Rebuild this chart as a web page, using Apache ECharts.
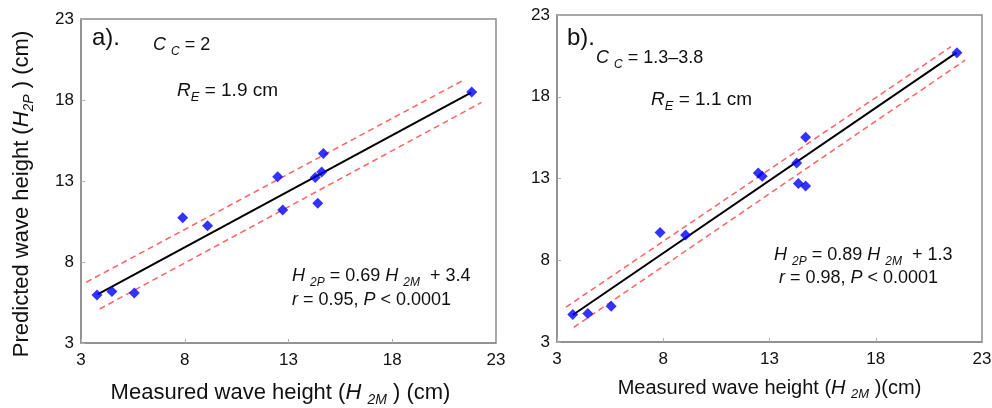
<!DOCTYPE html>
<html>
<head>
<meta charset="utf-8">
<script src="https://cdn.jsdelivr.net/npm/echarts@6/dist/echarts.min.js"></script>
<style>
  html, body { margin: 0; padding: 0; background: #fff; }
  #chart { width: 992px; height: 408px; }
</style>
</head>
<body>
<div id="chart"></div>
<script>
// panel a) Cc = 2
var measuredA = [3.77, 4.49, 5.57, 7.90, 9.10, 12.48, 12.72, 14.29, 14.60, 14.68, 14.41, 21.83];
var predictedA = [5.97, 6.18, 6.08, 10.73, 10.24, 13.26, 11.21, 13.22, 13.56, 14.69, 11.62, 18.49];
var fitA = [[3.8, 6.0], [21.8, 18.45]];
var upperA = [[3.25, 6.75], [21.4, 19.2]];
var lowerA = [[3.9, 5.1], [22.3, 17.85]];

// panel b) Cc = 1.3-3.8
var measuredB = [3.74, 4.45, 5.55, 7.85, 9.05, 12.47, 12.66, 14.28, 14.70, 14.36, 14.70, 21.82];
var predictedB = [4.68, 4.74, 5.19, 9.69, 9.55, 13.34, 13.13, 13.95, 15.53, 12.70, 12.54, 20.69];
var fitB = [[3.74, 4.65], [21.8, 20.7]];
var upperB = [[3.42, 5.13], [21.54, 21.06]];
var lowerB = [[3.79, 3.90], [22.21, 20.24]];

var FONT = '"Liberation Sans", Arial, sans-serif';
var frame = '#8c8c8c';
var ink = '#111';

function pairs(xs, ys) {
  return xs.map(function (x, i) { return [x, ys[i]]; });
}

function nameRich(size) {
  return {
    n: { fontSize: size, fontFamily: FONT, color: ink, lineHeight: size + 6 },
    i: { fontSize: size, fontFamily: FONT, color: ink, fontStyle: 'italic', lineHeight: size + 6 },
    s: { fontSize: Math.round(size * 0.65), fontFamily: FONT, color: ink, fontStyle: 'italic', verticalAlign: 'bottom', lineHeight: 12 }
  };
}

function xAxisOf(idx, name, gap, size, pad) {
  return {
    gridIndex: idx, type: 'value', min: 3, max: 23, interval: 5,
    name: name, nameLocation: 'middle', nameGap: gap,
    nameTextStyle: { rich: nameRich(size), padding: pad },
    axisLine: { show: true, lineStyle: { color: frame, width: 1.5 } },
    axisTick: { show: true, inside: true, length: 4, lineStyle: { color: '#b0b0b0' } },
    axisLabel: { fontSize: 17, fontFamily: FONT, color: ink, margin: 9 },
    splitLine: { show: false }
  };
}

function yAxisOf(idx, name) {
  return {
    gridIndex: idx, type: 'value', min: 3, max: 23, interval: 5,
    name: name, nameLocation: 'middle', nameGap: 45,
    nameTextStyle: { rich: nameRich(22), padding: [0, 26, 0, 0] },
    axisLine: { show: true, lineStyle: { color: frame, width: 1.5 } },
    axisTick: { show: true, inside: true, length: 4, lineStyle: { color: '#b0b0b0' } },
    axisLabel: { fontSize: 17, fontFamily: FONT, color: ink, margin: 7 },
    splitLine: { show: false }
  };
}

function panelSeries(idx, xs, ys, fit, up, low) {
  return [
    { type: 'line', xAxisIndex: idx, yAxisIndex: idx, data: up, symbol: 'none', silent: true,
      lineStyle: { color: '#ff6262', width: 1.5, type: [6, 4] } },
    { type: 'line', xAxisIndex: idx, yAxisIndex: idx, data: low, symbol: 'none', silent: true,
      lineStyle: { color: '#ff6262', width: 1.5, type: [6, 4] } },
    { type: 'line', xAxisIndex: idx, yAxisIndex: idx, data: fit, symbol: 'none', silent: true,
      lineStyle: { color: '#000', width: 2 } },
    { type: 'scatter', xAxisIndex: idx, yAxisIndex: idx, data: pairs(xs, ys),
      symbol: 'diamond', symbolSize: 11, itemStyle: { color: '#0000ff' }, z: 5 }
  ];
}

function richText(size) {
  return {
    n: { fontSize: size, fontFamily: FONT, fill: ink, lineHeight: size + 7 },
    i: { fontSize: size, fontFamily: FONT, fill: ink, fontStyle: 'italic', lineHeight: size + 7 },
    s: { fontSize: Math.round(size * 0.66), fontFamily: FONT, fill: ink, fontStyle: 'italic', verticalAlign: 'bottom', lineHeight: 10 }
  };
}

function label(x, y, text, size) {
  size = size || 18;
  return {
    type: 'text', x: x, y: y, z: 10,
    style: {
      text: text, rich: richText(size), fill: ink,
      fontSize: size, fontFamily: FONT, verticalAlign: 'middle'
    }
  };
}

var chart = echarts.init(document.getElementById('chart'), null, { renderer: 'canvas' });

chart.setOption({
  animation: false,
  grid: [
    { left: 81, top: 19, width: 415, height: 324, outerBoundsMode: 'none', show: true, borderColor: frame, borderWidth: 1.5, backgroundColor: '#fff' },
    { left: 557, top: 15, width: 425, height: 327, outerBoundsMode: 'none', show: true, borderColor: frame, borderWidth: 1.5, backgroundColor: '#fff' }
  ],
  xAxis: [
    xAxisOf(0, '{n|Measured wave height (}{i|H }{s|2M}{n| ) (cm)}', 36, 22, [0, 16, 0, 0]),
    xAxisOf(1, '{n|Measured wave height (}{i|H }{s|2M}{n| )(cm)}', 33, 20, 0)
  ],
  yAxis: [
    yAxisOf(0, '{n|Predicted wave height (}{i|H}{s|2P}{n| ) (cm)}'),
    yAxisOf(1, '')
  ],
  series: [].concat(
    panelSeries(0, measuredA, predictedA, fitA, upperA, lowerA),
    panelSeries(1, measuredB, predictedB, fitB, upperB, lowerB)
  ),
  graphic: [
    { type: 'text', x: 92, y: 38, z: 10, style: { text: 'a).', fontSize: 24, fontFamily: FONT, fill: ink, verticalAlign: 'middle' } },
    label(153, 45, '{i|C }{s|C}{n| = 2}'),
    label(177, 91, '{i|R}{s|E}{n| = 1.9 cm}', 19),
    label(292, 276, '{i|H }{s|2P}{n| = 0.69 }{i|H }{s|2M}{n|  + 3.4}'),
    label(292, 300, '{i|r}{n| = 0.95, }{i|P}{n| < 0.0001}'),

    { type: 'text', x: 567, y: 38, z: 10, style: { text: 'b).', fontSize: 24, fontFamily: FONT, fill: ink, verticalAlign: 'middle' } },
    label(596, 58, '{i|C }{s|C}{n| = 1.3\u20133.8}'),
    label(651, 100, '{i|R}{s|E}{n| = 1.1 cm}', 19),
    label(774, 255, '{i|H }{s|2P}{n| = 0.89 }{i|H }{s|2M}{n|  + 1.3}'),
    label(779, 278, '{i|r}{n| = 0.98, }{i|P}{n| < 0.0001}')
  ]
});
</script>
</body>
</html>
